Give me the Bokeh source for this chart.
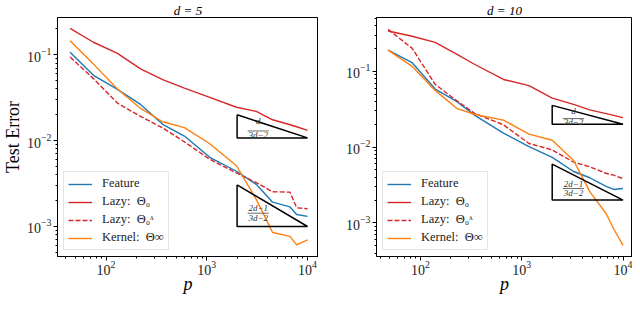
import numpy as np
from bokeh.plotting import figure
from bokeh.layouts import row
from bokeh.models import FixedTicker, Legend, LegendItem, Label, Range1d
from bokeh.embed import file_html
from bokeh.resources import INLINE

# ---------------- data ----------------
d_left = 5
p_left = [44, 75, 130, 220, 365, 600, 1070, 1970, 3100, 4500, 6700, 7800, 10000]
feature_left = [0.107, 0.0577, 0.0396, 0.0264, 0.0155, 0.0113, 0.0064, 0.0044, 0.0031, 0.00192, 0.00169, 0.00138, 0.00131]
lazy_left = [0.203, 0.140, 0.104, 0.0687, 0.0513, 0.0409, 0.0319, 0.0245, 0.0219, 0.0175, 0.0153, 0.0145, 0.0132]
lazyL_left = [0.094, 0.0528, 0.0274, 0.0192, 0.0141, 0.00968, 0.00607, 0.0042, 0.00324, 0.00254, 0.00251, 0.00165, 0.00161]
kernel_left = [0.1456, 0.0779, 0.0399, 0.0237, 0.0166, 0.0142, 0.0092, 0.0051, 0.00207, 0.00085, 0.000766, 0.000611, 0.0007]

d_right = 10
p_right = [48, 83, 140, 228, 345, 660, 1180, 2000, 3250, 4700, 6800, 8100, 10000]
feature_right = [0.19, 0.13, 0.0583, 0.040, 0.0262, 0.0153, 0.01016, 0.0073, 0.00476, 0.00394, 0.00303, 0.00276, 0.00284]
lazy_right = [0.34, 0.29, 0.241, 0.169, 0.123, 0.078, 0.0648, 0.0442, 0.0367, 0.031, 0.0277, 0.0262, 0.0245]
lazyL_right = [0.358, 0.201, 0.0673, 0.041, 0.0277, 0.0197, 0.01117, 0.00917, 0.00634, 0.0055, 0.00451, 0.00426, 0.00384]
kernel_right = [0.19, 0.116, 0.056, 0.0325, 0.0269, 0.0227, 0.0148, 0.0123, 0.00665, 0.00258, 0.00133, 0.00083, 0.000504]

# slope triangles: (p start, p end, anchor value, anchor kind, numerator kind)
tri_left = [(2000, 10000, 0.02, "top", "d"), (2000, 10000, 0.001, "bottom", "2d")]
tri_right = [(2000, 10000, 0.02, "bottom", "d"), (2000, 10000, 0.002, "bottom", "2d")]

x_decades = [2, 3, 4]
y_decades = [-3, -2, -1]

legend_labels = ["Feature", "Lazy:  \u0398\u2080", "Lazy:  \u0398\u2080\u1dba", "Kernel:  \u0398\u221e"]

BLUE = "#1f77b4"
RED = "#d62728"
ORANGE = "#ff7f0e"
SERIF = "Liberation Serif"


def make_panel(d, pvals, feat, lazy, lazyL, kern, tris, xr, yr, width, height,
               border_left, border_right, show_ylabel):
    f = figure(width=width, height=height, x_axis_type="log", y_axis_type="log",
               x_range=Range1d(*xr), y_range=Range1d(*yr),
               output_backend="svg", toolbar_location=None,
               min_border_left=border_left, min_border_right=border_right,
               min_border_top=0, min_border_bottom=0)
    f.title.text = "d = %d" % d
    f.title.align = "center"
    f.title.text_font = SERIF
    f.title.text_font_style = "italic"
    f.title.text_font_size = "13px"
    f.title.text_color = "black"
    f.title.standoff = 0
    f.xgrid.visible = False
    f.ygrid.visible = False
    f.outline_line_color = "black"
    f.outline_line_width = 1
    f.background_fill_color = "white"
    f.border_fill_color = "white"

    minors_x = [m * 10.0 ** k for k in range(1, 5) for m in range(2, 10)]
    minors_y = [m * 10.0 ** k for k in range(-4, 0) for m in range(2, 10)]
    f.xaxis.ticker = FixedTicker(ticks=[10.0 ** k for k in x_decades], minor_ticks=minors_x)
    f.yaxis.ticker = FixedTicker(ticks=[10.0 ** k for k in y_decades], minor_ticks=minors_y)
    for ax in (f.xaxis, f.yaxis):
        ax.major_tick_in = 0
        ax.major_tick_out = 4
        ax.minor_tick_in = 0
        ax.minor_tick_out = 2
        ax.axis_line_color = "black"
        ax.major_tick_line_color = "black"
        ax.minor_tick_line_color = "black"
        ax.major_label_text_font = SERIF
        ax.major_label_text_font_size = "14px"
        ax.major_label_text_color = "#222222"
        ax.axis_label_text_font = SERIF
        ax.axis_label_text_color = "black"
    f.xaxis.axis_label = "p"
    f.xaxis.axis_label_text_font_style = "italic"
    f.xaxis.axis_label_text_font_size = "18px"
    f.xaxis.axis_label_standoff = -4
    f.xaxis.major_label_standoff = 0
    f.yaxis.major_label_standoff = 2
    if show_ylabel:
        f.yaxis.axis_label = "Test Error"
        f.yaxis.axis_label_text_font_style = "normal"
        f.yaxis.axis_label_text_font_size = "18px"
        f.yaxis.axis_label_standoff = 1

    r_feat = f.line(pvals, feat, line_color=BLUE, line_width=1.4)
    r_lazy = f.line(pvals, lazy, line_color=RED, line_width=1.4)
    r_lazyL = f.line(pvals, lazyL, line_color=RED, line_width=1.4, line_dash="5 2")
    r_kern = f.line(pvals, kern, line_color=ORANGE, line_width=1.4)

    # slope triangles
    for (x0, x1, anchor, kind, num) in tris:
        slope = (d / (3 * d - 2)) if num == "d" else ((2 * d - 1) / (3 * d - 2))
        drop = (x1 / x0) ** slope
        if kind == "top":
            ytop, ybot = anchor, anchor / drop
        else:
            ybot, ytop = anchor, anchor * drop
        f.line([x0, x0, x1, x0], [ytop, ybot, ybot, ytop], line_color="black", line_width=1.5)
        # fraction label
        lx0 = np.log10(x0); lx1 = np.log10(x1)
        ly0 = np.log10(ybot); ly1 = np.log10(ytop)
        cx = 10 ** (lx0 + 0.30 * (lx1 - lx0))
        numtxt = "d" if num == "d" else "2d\u22121"
        small = (ly1 - ly0) < 0.35
        if num == "d":
            fb = 0.30 if small else 0.42
            fn = 0.72 if small else 0.66
            fd = 0.14 if small else 0.18
        else:
            fb = 0.32
            fn = 0.44
            fd = 0.21
        bar_y = 10 ** (ly0 + fb * (ly1 - ly0))
        w = 0.15 * (lx1 - lx0)
        f.line([10 ** (lx0 + 0.30 * (lx1 - lx0) - w), 10 ** (lx0 + 0.30 * (lx1 - lx0) + w)],
               [bar_y, bar_y], line_color="#444444", line_width=0.8)
        for txt, fy in ((numtxt, fn), ("3d\u22122", fd)):
            f.add_layout(Label(x=cx, y=10 ** (ly0 + fy * (ly1 - ly0)), text=txt,
                               text_align="center", text_baseline="middle",
                               text_font=SERIF, text_font_style="italic",
                               text_font_size="9px", text_color="#333333"))

    items = [LegendItem(label=lab, renderers=[r]) for lab, r in
             zip(legend_labels, [r_feat, r_lazy, r_lazyL, r_kern])]
    leg = Legend(items=items, location="bottom_left",
                 label_text_font=SERIF, label_text_font_size="12.5px",
                 label_text_color="#222222",
                 glyph_width=24, glyph_height=14, label_height=14,
                 label_standoff=10, spacing=3, padding=4, margin=6,
                 border_line_color="#cccccc", border_line_width=1,
                 background_fill_alpha=0.85)
    f.add_layout(leg)
    return f


left = make_panel(d_left, p_left, feature_left, lazy_left, lazyL_left, kernel_left, tri_left,
                  (33, 12850), (4.47e-4, 0.272), 318, 296, 40, 0, True)
right = make_panel(d_right, p_right, feature_right, lazy_right, lazyL_right, kernel_right, tri_right,
                   (36.9, 12400), (3.6e-4, 0.513), 314, 296, 58, 0, False)

layout = row(left, right, spacing=0)
open("out.html", "w").write(file_html(layout, INLINE))
